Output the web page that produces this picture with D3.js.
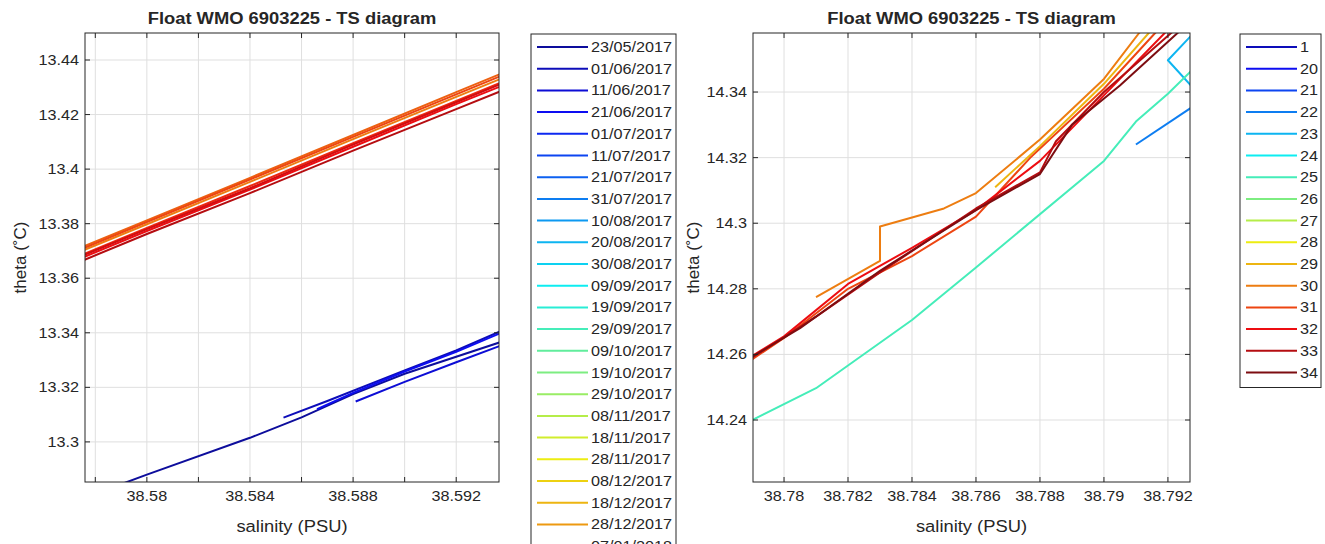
<!DOCTYPE html>
<meta charset="utf-8">
<script src="https://d3js.org/d3.v7.min.js"></script>
<style>
  body { margin: 0; background: #fff; }
  text { font-family: "Liberation Sans", Arial, sans-serif; fill: #262626; }
</style>
<div id="chart"></div>
<script>

// ---- data ----
var titleText = "Float WMO 6903225 - TS diagram";

// left panel: legend dates (one profile every 10 days)
var leftDates = ["23/05/2017", "01/06/2017", "11/06/2017", "21/06/2017", "01/07/2017", "11/07/2017",
  "21/07/2017", "31/07/2017", "10/08/2017", "20/08/2017", "30/08/2017", "09/09/2017",
  "19/09/2017", "29/09/2017", "09/10/2017", "19/10/2017", "29/10/2017", "08/11/2017",
  "18/11/2017", "28/11/2017", "08/12/2017", "18/12/2017", "28/12/2017", "07/01/2018",
  "17/01/2018", "27/01/2018", "06/02/2018", "16/02/2018", "26/02/2018", "08/03/2018"];

var leftXTicks = [38.578, 38.58, 38.582, 38.584, 38.586, 38.588, 38.59, 38.592];
var leftXLabels = ["", "38.58", "", "38.584", "", "38.588", "", "38.592"];
var leftYTicks = [13.3, 13.32, 13.34, 13.36, 13.38, 13.4, 13.42, 13.44];
var leftYLabels = ["13.3", "13.32", "13.34", "13.36", "13.38", "13.4", "13.42", "13.44"];

// profiles in the left window (salinity / theta)
var d0_sal = [38.5780, 38.5800, 38.5840, 38.5860, 38.5880, 38.5900, 38.5937, 38.5960];
var d0_theta = [13.2810, 13.2880, 13.3015, 13.3090, 13.3175, 13.3250, 13.3365, 13.3440];
var d1_sal = [38.5853, 38.5870, 38.5900, 38.5920, 38.5937, 38.5960];
var d1_theta = [13.3089, 13.3150, 13.3262, 13.3335, 13.3405, 13.3485];
var d2_sal = [38.5881, 38.5900, 38.5920, 38.5937, 38.5960];
var d2_theta = [13.3148, 13.3220, 13.3292, 13.3352, 13.3432];
var d3_sal = [38.5866, 38.5880, 38.5900, 38.5920, 38.5937, 38.5960];
var d3_theta = [13.3120, 13.3180, 13.3258, 13.3330, 13.3398, 13.3480];

var late_sal = [38.5760, 38.5800, 38.5840, 38.5880, 38.5920, 38.5960];
var d23_theta = [13.3643, 13.3798, 13.3953, 13.4110, 13.4265, 13.4418];
var d24_theta = [13.3656, 13.3812, 13.3968, 13.4125, 13.4282, 13.4438];
var d25_theta = [13.3650, 13.3806, 13.3962, 13.4118, 13.4274, 13.4430];
var d26_theta = [13.3628, 13.3784, 13.3938, 13.4095, 13.4250, 13.4405];
var d27_theta = [13.3617, 13.3773, 13.3925, 13.4082, 13.4238, 13.4390];
var d28_theta = [13.3624, 13.3780, 13.3930, 13.4090, 13.4245, 13.4400];
var d29_theta = [13.3606, 13.3762, 13.3912, 13.4068, 13.4220, 13.4372];

// right panel: cycle numbers
var rightCycles = ["1", "20", "21", "22", "23", "24", "25", "26", "27", "28", "29", "30", "31", "32", "33", "34"];

var rightXTicks = [38.78, 38.782, 38.784, 38.786, 38.788, 38.79, 38.792];
var rightXLabels = ["38.78", "38.782", "38.784", "38.786", "38.788", "38.79", "38.792"];
var rightYTicks = [14.24, 14.26, 14.28, 14.3, 14.32, 14.34];
var rightYLabels = ["14.24", "14.26", "14.28", "14.3", "14.32", "14.34"];

var c22_sal = [38.7910, 38.7930];
var c22_theta = [14.3240, 14.3370];
var c23_sal = [38.7930, 38.7920, 38.7930];
var c23_theta = [14.3600, 14.3497, 14.3390];
var c25_sal = [38.7790, 38.7810, 38.7840, 38.7860, 38.7900, 38.7910, 38.7920, 38.7930];
var c25_theta = [14.2400, 14.2497, 14.2705, 14.2865, 14.3190, 14.3310, 14.3395, 14.3490];
var c29_sal = [38.7866, 38.7880, 38.7900, 38.7914, 38.7925];
var c29_theta = [14.3110, 14.3235, 14.3425, 14.3580, 14.3680];
var c30_sal = [38.7810, 38.7830, 38.7830, 38.7850, 38.7860, 38.7880, 38.7900, 38.7911, 38.7920];
var c30_theta = [14.2775, 14.2885, 14.2990, 14.3045, 14.3092, 14.3255, 14.3440, 14.3580, 14.3670];
var c31_sal = [38.7790, 38.7800, 38.7820, 38.7840, 38.7860, 38.7877, 38.7900, 38.7916, 38.7930];
var c31_theta = [14.2585, 14.2650, 14.2800, 14.2900, 14.3020, 14.3200, 14.3410, 14.3580, 14.3710];
var c32_sal = [38.7790, 38.7800, 38.7820, 38.7840, 38.7860, 38.7880, 38.7890, 38.7905, 38.7919, 38.7930];
var c32_theta = [14.2595, 14.2655, 14.2815, 14.2925, 14.3040, 14.3190, 14.3290, 14.3440, 14.3580, 14.3680];
var c33_sal = [38.7790, 38.7810, 38.7830, 38.7860, 38.7880, 38.7885, 38.7900, 38.7921, 38.7930];
var c33_theta = [14.2590, 14.2715, 14.2850, 14.3045, 14.3155, 14.3250, 14.3400, 14.3580, 14.3650];
var c34_sal = [38.7790, 38.7805, 38.7830, 38.7860, 38.7880, 38.7890, 38.7905, 38.7923, 38.7930];
var c34_theta = [14.2593, 14.2680, 14.2855, 14.3040, 14.3150, 14.3300, 14.3420, 14.3580, 14.3640];

// [legend index, salinity, theta]
var leftLines = [
  [0, d0_sal, d0_theta], [1, d1_sal, d1_theta], [2, d2_sal, d2_theta], [3, d3_sal, d3_theta],
  [23, late_sal, d23_theta], [24, late_sal, d24_theta], [25, late_sal, d25_theta],
  [26, late_sal, d26_theta], [27, late_sal, d27_theta], [28, late_sal, d28_theta],
  [29, late_sal, d29_theta]
];
var rightLines = [
  [3, c22_sal, c22_theta], [4, c23_sal, c23_theta], [6, c25_sal, c25_theta],
  [10, c29_sal, c29_theta], [11, c30_sal, c30_theta], [12, c31_sal, c31_theta],
  [13, c32_sal, c32_theta], [14, c33_sal, c33_theta], [15, c34_sal, c34_theta]
];

// ---- matlab jet colormap (a bit muted, like the exported jpeg) ----
function jet(m) {
  var n = Math.ceil(m / 4), u = [], i;
  for (i = 1; i <= n; i++) u.push(i / n);
  for (i = 1; i < n; i++) u.push(1);
  for (i = n; i >= 1; i--) u.push(i / n);
  var g0 = Math.ceil(n / 2) - (m % 4 == 1 ? 1 : 0);
  var J = d3.range(m).map(function() { return [0, 0, 0]; });
  u.forEach(function(v, k) {
    var g = g0 + k + 1, r = g + n, b = g - n;
    if (g >= 1 && g <= m) J[g - 1][1] = v;
    if (r >= 1 && r <= m) J[r - 1][0] = v;
    if (b >= 1 && b <= m) J[b - 1][2] = v;
  });
  return J.map(function(c) {
    var col = d3.rgb(c[0] * 255, c[1] * 255, c[2] * 255).toString();
    return d3.interpolateRgb(col, "#6a6a8a")(0.12);
  });
}

var W = 1325, H = 544, stretch = 1.08;
var svg = d3.select("#chart").append("svg").attr("width", W).attr("height", H);

function txt(g, x, y, s, anchor, size, weight) {
  return g.append("text")
    .attr("transform", "translate(" + x + "," + y + ") scale(" + stretch + ",1)")
    .attr("text-anchor", anchor)
    .style("font-size", size + "px")
    .style("font-weight", weight || "normal")
    .text(s);
}

function panel(cfg) {
  var x = d3.scaleLinear().domain(cfg.xDomain).range([cfg.left, cfg.right]);
  var y = d3.scaleLinear().domain(cfg.yDomain).range([cfg.bottom, cfg.top]);
  var g = svg.append("g");
  var colors = jet(cfg.legend.length);

  g.append("rect").attr("x", cfg.left).attr("y", cfg.top)
    .attr("width", cfg.right - cfg.left).attr("height", cfg.bottom - cfg.top).attr("fill", "#fff");

  // grid
  g.selectAll(".gx").data(cfg.xTicks).enter().append("line")
    .attr("x1", function(d) { return x(d); }).attr("x2", function(d) { return x(d); })
    .attr("y1", cfg.top).attr("y2", cfg.bottom)
    .attr("stroke", "#dfdfdf").attr("stroke-width", 1);
  g.selectAll(".gy").data(cfg.yTicks).enter().append("line")
    .attr("y1", function(d) { return y(d); }).attr("y2", function(d) { return y(d); })
    .attr("x1", cfg.left).attr("x2", cfg.right)
    .attr("stroke", "#dfdfdf").attr("stroke-width", 1);

  // lines
  var clipId = "clip" + cfg.left;
  svg.append("clipPath").attr("id", clipId).append("rect")
    .attr("x", cfg.left).attr("y", cfg.top)
    .attr("width", cfg.right - cfg.left).attr("height", cfg.bottom - cfg.top);
  var line = d3.line().x(function(d) { return x(d[0]); }).y(function(d) { return y(d[1]); });
  g.append("g").attr("clip-path", "url(#" + clipId + ")")
    .selectAll("path").data(cfg.lines).enter().append("path")
    .attr("d", function(d) { return line(d3.zip(d[1], d[2])); })
    .attr("fill", "none")
    .attr("stroke", function(d) { return colors[d[0]]; })
    .attr("stroke-width", 2)
    .attr("stroke-linejoin", "round");

  // box + inward ticks on all sides
  var tl = 5, ax = "#262626";
  g.append("rect").attr("x", cfg.left).attr("y", cfg.top)
    .attr("width", cfg.right - cfg.left).attr("height", cfg.bottom - cfg.top)
    .attr("fill", "none").attr("stroke", ax).attr("stroke-width", 1);
  cfg.xTicks.forEach(function(t) {
    g.append("line").attr("x1", x(t)).attr("x2", x(t)).attr("y1", cfg.bottom).attr("y2", cfg.bottom - tl).attr("stroke", ax);
    g.append("line").attr("x1", x(t)).attr("x2", x(t)).attr("y1", cfg.top).attr("y2", cfg.top + tl).attr("stroke", ax);
  });
  cfg.yTicks.forEach(function(t) {
    g.append("line").attr("y1", y(t)).attr("y2", y(t)).attr("x1", cfg.left).attr("x2", cfg.left + tl).attr("stroke", ax);
    g.append("line").attr("y1", y(t)).attr("y2", y(t)).attr("x1", cfg.right).attr("x2", cfg.right - tl).attr("stroke", ax);
  });

  // tick labels
  cfg.xTicks.forEach(function(t, i) {
    if (cfg.xLabels[i]) txt(g, x(t), cfg.bottom + 19, cfg.xLabels[i], "middle", 15);
  });
  cfg.yTicks.forEach(function(t, i) {
    txt(g, cfg.left - 6, y(t) + 5, cfg.yLabels[i], "end", 15);
  });

  // titles
  var cx = (cfg.left + cfg.right) / 2;
  txt(g, cx, 24, titleText, "middle", 17, "bold");
  txt(g, cx, 532, "salinity (PSU)", "middle", 17);
  g.append("text")
    .attr("transform", "translate(" + (cfg.left - cfg.yLabelGap) + "," + ((cfg.top + cfg.bottom) / 2) + ") rotate(-90)")
    .attr("text-anchor", "middle").style("font-size", "17px")
    .text("theta (\u02DAC)");

  // legend
  var step = 21.7, L = cfg.legendX;
  var lg = g.append("g");
  lg.append("rect").attr("x", L).attr("y", cfg.top + 1)
    .attr("width", cfg.legendW).attr("height", 14 + step * (cfg.legend.length - 1) + 14)
    .attr("fill", "#fff").attr("stroke", ax).attr("stroke-width", 1);
  cfg.legend.forEach(function(s, i) {
    var yy = 47 + i * step;
    lg.append("line").attr("x1", L + 6).attr("x2", L + 57).attr("y1", yy).attr("y2", yy)
      .attr("stroke", colors[i]).attr("stroke-width", 2);
    txt(lg, L + 60, yy + 5, s, "start", 15);
  });
}

panel({
  left: 85, right: 499, top: 33, bottom: 482,
  xDomain: [38.5776, 38.59366], yDomain: [13.2853, 13.4499],
  xTicks: leftXTicks, xLabels: leftXLabels, yTicks: leftYTicks, yLabels: leftYLabels,
  lines: leftLines, legend: leftDates, legendX: 531, legendW: 145, yLabelGap: 59
});

panel({
  left: 753, right: 1190, top: 33, bottom: 482,
  xDomain: [38.77903, 38.79269], yDomain: [14.2211, 14.358],
  xTicks: rightXTicks, xLabels: rightXLabels, yTicks: rightYTicks, yLabels: rightYLabels,
  lines: rightLines, legend: rightCycles, legendX: 1240, legendW: 81, yLabelGap: 54
});

</script>
